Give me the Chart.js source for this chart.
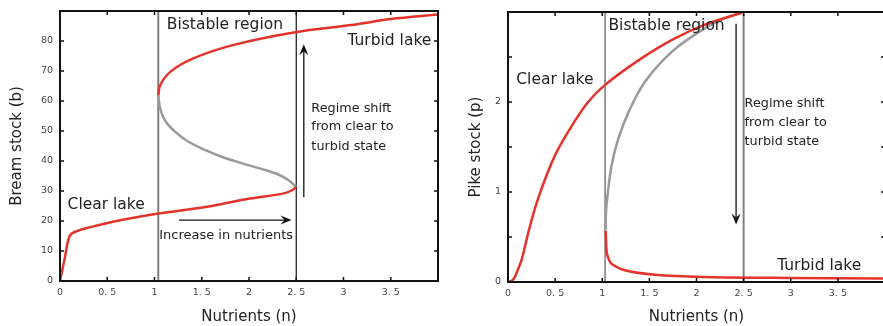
<!DOCTYPE html>
<html>
<head>
<meta charset="utf-8">
<script src="https://cdn.jsdelivr.net/npm/chart.js@4.4.1/dist/chart.umd.min.js"></script>
<style>
  html, body { margin: 0; padding: 0; background: #fff; width: 883px; height: 326px; overflow: hidden; }
  #wrap { position: relative; width: 883px; height: 326px; }
  #bream { position: absolute; left: 0; top: 0; }
  #pike { position: absolute; left: 440px; top: 0; }
</style>
</head>
<body>
<div id="wrap">
  <canvas id="bream" width="440" height="326"></canvas>
  <canvas id="pike" width="447" height="326"></canvas>
</div>
<script>
// nutrient axis (shared)
const nTicks = [0, 0.5, 1, 1.5, 2, 2.5, 3, 3.5, 4];
const nTickLabels = ['0', '0. 5', '1', '1. 5', '2', '2. 5', '3', '3. 5', ''];

// bream stock (left panel)
const breamTicks = [0, 10, 20, 30, 40, 50, 60, 70, 80, 90];
const breamTickLabels = ['0', '10', '20', '30', '40', '50', '60', '70', '80', ''];
const breamClearN = [0, 0.05, 0.106, 0.2, 0.3, 0.65, 1.04, 1.54, 2.01, 2.37, 2.47, 2.5];
const breamClearB = [0, 7.5, 15.2, 16.9, 17.8, 20.3, 22.5, 24.7, 27.5, 29.2, 30.5, 31.5];
const breamUnstableN = [2.5, 2.47, 2.42, 2.31, 2.14, 1.93, 1.71, 1.54, 1.36, 1.22, 1.11, 1.06, 1.04];
const breamUnstableB = [31.5, 32.2, 33.6, 35.5, 37.3, 39.2, 41.4, 43.6, 46.4, 49.7, 53.6, 57.5, 62.0];
const breamTurbidN = [1.04, 1.06, 1.17, 1.41, 1.84, 2.49, 3.08, 3.5, 4.0];
const breamTurbidB = [62.0, 65.3, 69.8, 74.2, 78.7, 82.9, 85.3, 87.3, 88.8];

// pike stock (right panel)
const pikeTicks = [0, 0.5, 1, 1.5, 2, 2.5, 3];
const pikeTickLabels = ['0', '', '1', '', '2', '', ''];
const pikeClearN = [0, 0.05, 0.095, 0.148, 0.218, 0.32, 0.50, 0.68, 0.85, 1.03, 1.38, 1.74, 2.09, 2.48];
const pikeClearP = [0, 0.02, 0.11, 0.26, 0.56, 0.93, 1.41, 1.74, 2.0, 2.19, 2.46, 2.69, 2.86, 2.99];
const pikeUnstableN = [2.48, 2.32, 2.09, 1.74, 1.45, 1.28, 1.17, 1.10, 1.06, 1.04, 1.037];
const pikeUnstableP = [2.99, 2.94, 2.82, 2.56, 2.22, 1.89, 1.59, 1.30, 1.0, 0.78, 0.585];
const pikeTurbidN = [1.037, 1.04, 1.047, 1.07, 1.10, 1.24, 1.56, 2.09, 3.0, 4.0];
const pikeTurbidP = [0.57, 0.45, 0.33, 0.25, 0.20, 0.13, 0.08, 0.056, 0.045, 0.04];

// bistable region limits
const breamFold = [1.04, 2.5];
const pikeFold = [1.03, 2.5];

const RED = '#e3332b';
const GREY = '#9a9a9a';
const FONT = 'DejaVu Sans';

function pts(xs, ys) {
  return xs.map((x, i) => ({ x: x, y: ys[i] }));
}

function curve(xs, ys, color) {
  return { data: pts(xs, ys), borderColor: color, borderWidth: 2.5, pointRadius: 0, showLine: true, tension: 0.35, fill: false };
}

function vline(x, yMax, color, w) {
  return { data: [{ x: x, y: 0 }, { x: x, y: yMax }], borderColor: color, borderWidth: w, pointRadius: 0, showLine: true, tension: 0 };
}

function drawArrow(ctx, x1, y1, x2, y2) {
  const ang = Math.atan2(y2 - y1, x2 - x1);
  const len = 11, half = 4.5, notch = 7;
  const bx = x2 - Math.cos(ang) * notch, by = y2 - Math.sin(ang) * notch;
  ctx.strokeStyle = '#111';
  ctx.fillStyle = '#111';
  ctx.lineWidth = 1.3;
  ctx.beginPath();
  ctx.moveTo(x1, y1);
  ctx.lineTo(bx, by);
  ctx.stroke();
  const cx = x2 - Math.cos(ang) * len, cy = y2 - Math.sin(ang) * len;
  ctx.beginPath();
  ctx.moveTo(x2, y2);
  ctx.lineTo(cx - Math.sin(ang) * half, cy + Math.cos(ang) * half);
  ctx.lineTo(bx, by);
  ctx.lineTo(cx + Math.sin(ang) * half, cy - Math.cos(ang) * half);
  ctx.closePath();
  ctx.fill();
}

// frame, inward ticks, labels and arrows
const decor = {
  id: 'decor',
  afterDraw(chart, args, opts) {
    const { ctx, chartArea: a, scales: { x, y } } = chart;
    ctx.save();
    ctx.strokeStyle = '#111';
    ctx.lineWidth = 1.5;
    ctx.beginPath();
    x.ticks.forEach(t => {
      const px = x.getPixelForValue(t.value);
      ctx.moveTo(px, a.bottom); ctx.lineTo(px, a.bottom - 4);
      ctx.moveTo(px, a.top); ctx.lineTo(px, a.top + 4);
    });
    y.ticks.forEach(t => {
      const py = y.getPixelForValue(t.value);
      ctx.moveTo(a.left, py); ctx.lineTo(a.left + 4, py);
      ctx.moveTo(a.right, py); ctx.lineTo(a.right - 4, py);
    });
    ctx.stroke();
    ctx.lineWidth = 2;
    ctx.strokeRect(a.left, a.top, a.right - a.left, a.bottom - a.top);

    ctx.fillStyle = '#222';
    ctx.textBaseline = 'middle';
    (opts.texts || []).forEach(t => {
      ctx.font = t.size + 'px "' + FONT + '"';
      ctx.textAlign = t.align || 'left';
      ctx.fillText(t.text, x.getPixelForValue(t.x), y.getPixelForValue(t.y));
    });
    (opts.arrows || []).forEach(r => {
      drawArrow(ctx, x.getPixelForValue(r[0]), y.getPixelForValue(r[1]), x.getPixelForValue(r[2]), y.getPixelForValue(r[3]));
    });
    ctx.restore();
  }
};

function scales(yTicks, yLabels, yMax, yTitle, yWidth, xHeight) {
  return {
    x: {
      type: 'linear', min: 0, max: 4,
      afterBuildTicks: s => { s.ticks = nTicks.map(v => ({ value: v })); },
      afterFit: s => { s.height = xHeight; s.paddingLeft = 0; s.paddingRight = 0; },
      grid: { display: false, drawTicks: false, tickLength: 0 }, border: { display: false },
      ticks: { autoSkip: false, maxRotation: 0, padding: 6, color: '#444', font: { family: FONT, size: 9.5 }, callback: (v, i) => nTickLabels[i] },
      title: { display: true, text: 'Nutrients (n)', color: '#222', font: { family: FONT, size: 15 }, padding: 0 }
    },
    y: {
      type: 'linear', min: 0, max: yMax,
      afterBuildTicks: s => { s.ticks = yTicks.map(v => ({ value: v })); },
      afterFit: s => { s.width = yWidth; s.paddingTop = 0; s.paddingBottom = 0; },
      grid: { display: false, drawTicks: false, tickLength: 0 }, border: { display: false },
      ticks: { autoSkip: false, padding: 7, color: '#444', font: { family: FONT, size: 9.5 }, callback: (v, i) => yLabels[i] },
      title: { display: true, text: yTitle, color: '#222', font: { family: FONT, size: 15 }, padding: 0 }
    }
  };
}

const common = {
  responsive: false,
  animation: false,
  plugins: { legend: { display: false }, tooltip: { enabled: false } }
};

new Chart(document.getElementById('bream'), {
  type: 'scatter',
  data: {
    datasets: [
      curve(breamClearN, breamClearB, RED),
      curve(breamTurbidN, breamTurbidB, RED),
      curve(breamUnstableN, breamUnstableB, GREY),
      vline(breamFold[0], 90, '#808080', 2),
      vline(breamFold[1], 90, '#111', 1.2)
    ]
  },
  options: Object.assign({}, common, {
    layout: { padding: { left: 8, top: 11, right: 2, bottom: 0 } },
    scales: scales(breamTicks, breamTickLabels, 90, 'Bream stock (b)', 52, 45),
    plugins: Object.assign({}, common.plugins, {
      decor: {
        texts: [
          { text: 'Bistable region', x: 1.13, y: 85.3, size: 15.5 },
          { text: 'Turbid lake', x: 3.93, y: 80, size: 15.5, align: 'right' },
          { text: 'Clear lake', x: 0.08, y: 25.3, size: 15.5 },
          { text: 'Increase in nutrients', x: 1.05, y: 15.2, size: 13 },
          { text: 'Regime shift', x: 2.66, y: 57.6, size: 12.8 },
          { text: 'from clear to', x: 2.66, y: 51.3, size: 12.8 },
          { text: 'turbid state', x: 2.66, y: 44.9, size: 12.8 }
        ],
        arrows: [[1.26, 20.3, 2.45, 20.3], [2.58, 27.9, 2.58, 78.9]]
      }
    })
  }),
  plugins: [decor]
});

new Chart(document.getElementById('pike'), {
  type: 'scatter',
  data: {
    datasets: [
      curve(pikeClearN, pikeClearP, RED),
      curve(pikeTurbidN, pikeTurbidP, RED),
      curve(pikeUnstableN, pikeUnstableP, GREY),
      vline(pikeFold[0], 3, '#555', 1.2),
      vline(pikeFold[1], 3, '#808080', 2)
    ]
  },
  options: Object.assign({}, common, {
    layout: { padding: { left: 27, top: 12, right: 2, bottom: 0 } },
    scales: scales(pikeTicks, pikeTickLabels, 3, 'Pike stock (p)', 41, 44),
    plugins: Object.assign({}, common.plugins, {
      decor: {
        texts: [
          { text: 'Bistable region', x: 1.066, y: 2.85, size: 15.5 },
          { text: 'Clear lake', x: 0.088, y: 2.25, size: 15.5 },
          { text: 'Regime shift', x: 2.51, y: 1.985, size: 12.8 },
          { text: 'from clear to', x: 2.51, y: 1.774, size: 12.8 },
          { text: 'turbid state', x: 2.51, y: 1.563, size: 12.8 },
          { text: 'Turbid lake', x: 2.856, y: 0.174, size: 15.5 }
        ],
        arrows: [[2.42, 2.87, 2.42, 0.64]]
      }
    })
  }),
  plugins: [decor]
});
</script>
</body>
</html>
